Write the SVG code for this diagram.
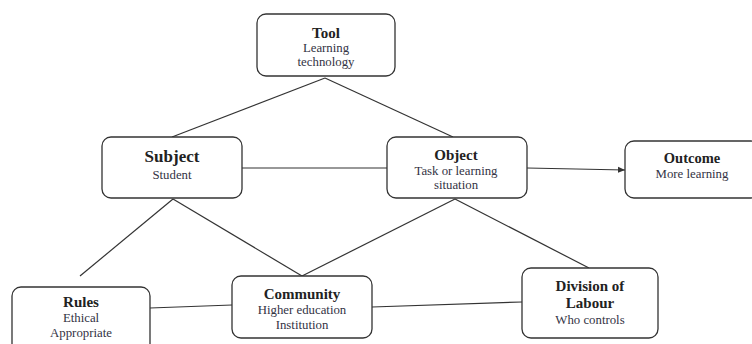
<svg xmlns="http://www.w3.org/2000/svg" width="752" height="344" viewBox="0 0 752 344">
<defs>
<marker id="arr" markerWidth="8" markerHeight="8" refX="7" refY="4" orient="auto" markerUnits="userSpaceOnUse">
<path d="M0,1 L7,4 L0,7 Z" fill="#333"/>
</marker>
<style>
.box{fill:#fff;stroke:#333;stroke-width:1.3}
.ln{stroke:#333;stroke-width:1.2;fill:none}
text{font-family:"Liberation Serif","Times New Roman",serif;text-anchor:middle;fill:#222}
.t{font-weight:bold;font-size:15px}
.s{font-size:12.8px;fill:#334}
</style>
</defs>
<rect width="752" height="344" fill="#fff"/>
<g id="connectors">
<line class="ln" x1="325" y1="78" x2="172" y2="137"/>
<line class="ln" x1="325" y1="78" x2="453" y2="137"/>
<line class="ln" x1="242" y1="168" x2="387" y2="168"/>
<line class="ln" x1="527" y1="168" x2="625" y2="170" marker-end="url(#arr)"/>
<line class="ln" x1="173" y1="199" x2="80" y2="276"/>
<line class="ln" x1="173" y1="199" x2="302" y2="276"/>
<line class="ln" x1="455" y1="199" x2="302" y2="276"/>
<line class="ln" x1="455" y1="199" x2="589" y2="268"/>
<line class="ln" x1="150" y1="308" x2="232" y2="305"/>
<line class="ln" x1="372" y1="307" x2="522" y2="302"/>
</g>
<g id="tool">
<rect class="box" x="257" y="14" width="138" height="62" rx="9"/>
<text class="t" x="326" y="38">Tool</text>
<text class="s" x="326" y="52">Learning</text>
<text class="s" x="326" y="66">technology</text>
</g>
<g id="subject">
<rect class="box" x="102" y="137" width="140" height="61" rx="9"/>
<text class="t" x="172" y="162" style="font-size:17px">Subject</text>
<text class="s" x="172" y="179">Student</text>
</g>
<g id="object">
<rect class="box" x="387" y="137" width="140" height="61" rx="9"/>
<text class="t" x="456" y="160">Object</text>
<text class="s" x="456" y="175">Task or learning</text>
<text class="s" x="456" y="189">situation</text>
</g>
<g id="outcome">
<rect class="box" x="625" y="141" width="135" height="57" rx="9"/>
<text class="t" x="692" y="163" style="font-size:14.5px">Outcome</text>
<text class="s" x="692" y="178">More learning</text>
</g>
<g id="rules">
<rect class="box" x="12" y="287" width="138" height="70" rx="9"/>
<text class="t" x="81" y="307">Rules</text>
<text class="s" x="81" y="322">Ethical</text>
<text class="s" x="81" y="337">Appropriate</text>
</g>
<g id="community">
<rect class="box" x="232" y="276" width="140" height="62" rx="9"/>
<text class="t" x="302" y="299">Community</text>
<text class="s" x="302" y="314">Higher education</text>
<text class="s" x="302" y="329">Institution</text>
</g>
<g id="division">
<rect class="box" x="522" y="268" width="136" height="70" rx="9"/>
<text class="t" x="590" y="291">Division of</text>
<text class="t" x="590" y="308">Labour</text>
<text class="s" x="590" y="324">Who controls</text>
</g>
</svg>
